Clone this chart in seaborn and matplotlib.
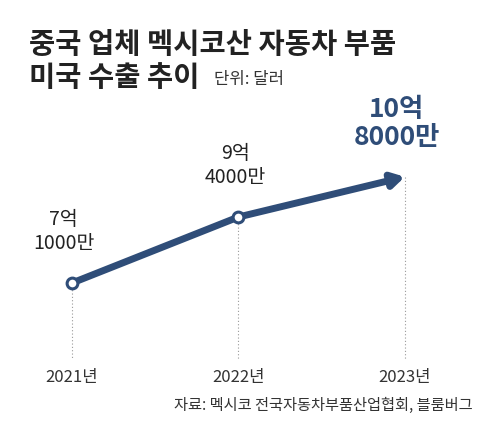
import matplotlib
matplotlib.use("Agg")
import matplotlib.pyplot as plt
import seaborn as sns
import pandas as pd

years = [2021, 2022, 2023]
values = [7.1, 9.4, 10.8]  # 억 달러
value_labels = ["7억\n1000만", "9억\n4000만", "10억\n8000만"]
year_labels = ["2021년", "2022년", "2023년"]

NAVY = "#2f4d78"
FONT = ["Noto Sans CJK KR", "DejaVu Sans"]

sns.set_theme(style="white")
plt.rcParams["font.family"] = FONT

fig = plt.figure(figsize=(4.87, 4.30), dpi=100)
ax = fig.add_axes([0, 0, 1, 1])
ax.set_xlim(2020.568, 2023.493)
ax.set_ylim(1.98, 16.96)
ax.axis("off")

df = pd.DataFrame({"year": years, "value": values})

# dotted guides
for x, v in zip(years, values):
    ax.plot([x, x], [v, 4.45], color="#999999", lw=0.8, ls=(0, (1, 2)), zorder=1)

sns.lineplot(data=df.iloc[:2], x="year", y="value", ax=ax, color=NAVY, lw=5, zorder=2)
ax.annotate("", xy=(years[2], values[2]), xytext=(years[1], values[1]),
            arrowprops=dict(arrowstyle="-|>,head_length=0.6,head_width=0.35",
                            color=NAVY, lw=5, shrinkA=0, shrinkB=0), zorder=2)
sns.scatterplot(data=df.iloc[:2], x="year", y="value", ax=ax, s=60, color="white",
                edgecolor=NAVY, linewidth=2.2, zorder=3)

ax.text(years[0] - 0.05, values[0] + 1.0, value_labels[0], ha="center", va="bottom",
        fontsize=14, color="#222222", linespacing=1.2)
ax.text(years[1] - 0.02, values[1] + 1.0, value_labels[1], ha="center", va="bottom",
        fontsize=14, color="#222222", linespacing=1.2)
ax.text(years[2] - 0.05, values[2] + 0.9, value_labels[2], ha="center", va="bottom",
        fontsize=19, fontweight="bold", color=NAVY, linespacing=1.05)

for x, lab in zip(years, year_labels):
    ax.text(x, 3.8, lab, ha="center", va="center", fontsize=12, color="#333333")

fig.text(0.06, 0.895, "중국 업체 멕시코산 자동차 부품", fontsize=20.5, fontweight="bold",
         color="#222222", va="center")
fig.text(0.06, 0.818, "미국 수출 추이", fontsize=20.5, fontweight="bold",
         color="#222222", va="center")
fig.text(0.44, 0.815, "단위: 달러", fontsize=12, color="#333333", va="center")
fig.text(0.97, 0.058, "자료: 멕시코 전국자동차부품산업협회, 블룸버그", fontsize=11,
         color="#333333", ha="right", va="center")

fig.savefig("out.png", dpi=100, facecolor="white")
